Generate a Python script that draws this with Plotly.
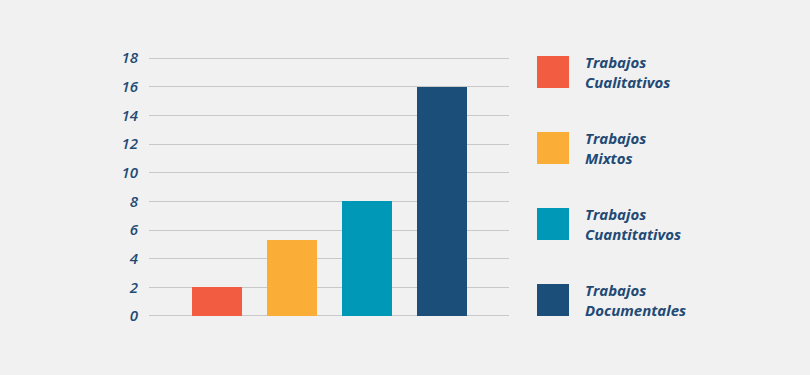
import plotly.graph_objects as go

categories = ["Trabajos Cualitativos", "Trabajos Mixtos", "Trabajos Cuantitativos", "Trabajos Documentales"]
legend_labels = ["Trabajos<br>Cualitativos", "Trabajos<br>Mixtos", "Trabajos<br>Cuantitativos", "Trabajos<br>Documentales"]
values = [2, 5.3, 8, 16]
colors = ["#f25d42", "#fbae37", "#0098b7", "#1b4e79"]
tick_vals = [0, 2, 4, 6, 8, 10, 12, 14, 16, 18]

text_color = "#1f4a75"
bg = "#f1f1f1"

fig = go.Figure()
fig.add_trace(go.Bar(
    x=list(range(len(categories))), y=values, marker=dict(color=colors, line=dict(width=0)),
    width=0.667, showlegend=False, hoverinfo="skip",
))

# plot area in pixels: x 149..509, y 56..318 (range padded by 2px each side)
W, H = 810, 375
L, R, T, B = 149, 509, 56, 318
pw, ph = R - L, B - T

lfont = dict(family="Open Sans", size=15, color=text_color, style="italic", weight=700)
for i, (lab, col) in enumerate(zip(legend_labels, colors)):
    top = 56 + i * 76
    fig.add_shape(type="rect", xref="paper", yref="paper",
                  x0=(537 - L) / pw, x1=(569 - L) / pw,
                  y0=(B - (top + 32)) / ph, y1=(B - top) / ph,
                  fillcolor=col, line=dict(width=0))
    fig.add_annotation(xref="paper", yref="paper", x=(584 - L) / pw, y=(B - (top + 16)) / ph,
                       text=lab, showarrow=False, xanchor="left", yanchor="middle", align="left",
                       font=lfont, borderpad=0)

fig.update_layout(
    width=W, height=H,
    paper_bgcolor=bg, plot_bgcolor=bg,
    margin=dict(l=L, r=W - R, t=T, b=H - B, pad=0),
    bargap=0,
    xaxis=dict(range=[-0.907, 3.893], showticklabels=False, showgrid=False, zeroline=False, showline=False, fixedrange=True),
    yaxis=dict(range=[-0.14, 18.14], tickvals=tick_vals, showgrid=True, gridcolor="#c8c8c8", gridwidth=1,
               zeroline=False, showline=False, ticklabelstandoff=10, fixedrange=True,
               tickfont=dict(family="Open Sans", size=15, color=text_color, style="italic", weight=600)),
)

fig.write_html("out.html", config={"displayModeBar": False},
               post_script="document.body.style.margin='0';document.body.style.background='#f1f1f1';")
